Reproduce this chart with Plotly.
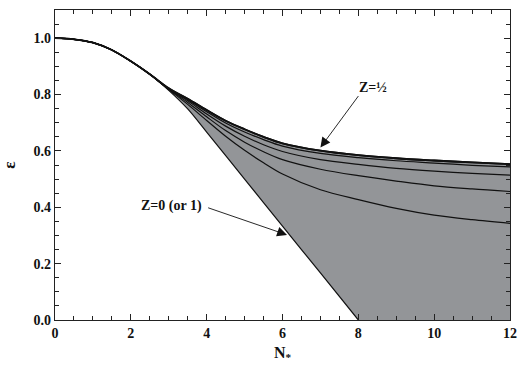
import plotly.graph_objects as go

# Data
N = [0, 0.5, 1, 1.5, 2, 2.5, 3, 3.5, 4, 4.5, 5, 5.5, 6, 7, 8, 9, 10, 11, 12]
common = [1.0, 0.996, 0.984, 0.958, 0.918, 0.872]  # shared part N=0..2.5
eps_z05 = common + [0.822, 0.785, 0.745, 0.707, 0.677, 0.650, 0.627, 0.601, 0.585, 0.574, 0.566, 0.559, 0.553]
eps_z04 = common + [0.821, 0.782, 0.739, 0.699, 0.667, 0.640, 0.617, 0.591, 0.576, 0.565, 0.557, 0.549, 0.543]
eps_z03 = common + [0.820, 0.778, 0.731, 0.688, 0.652, 0.622, 0.598, 0.569, 0.552, 0.538, 0.528, 0.520, 0.514]
eps_z02 = common + [0.819, 0.772, 0.721, 0.672, 0.631, 0.597, 0.569, 0.535, 0.512, 0.493, 0.476, 0.465, 0.456]
eps_z01 = common + [0.818, 0.765, 0.708, 0.652, 0.602, 0.558, 0.518, 0.462, 0.427, 0.396, 0.372, 0.356, 0.343]
N_z0 = [0, 0.5, 1, 1.5, 2, 2.5, 3, 3.5, 4, 5, 6, 7, 8]
eps_z0 = common + [0.815, 0.749, 0.667, 0.500, 0.333, 0.167, 0.0]

x_ticks = [0, 2, 4, 6, 8, 10, 12]
y_ticks = [0.0, 0.2, 0.4, 0.6, 0.8, 1.0]

fill_color = "#939598"
line_color = "#111111"
font_family = "Liberation Serif"

fig = go.Figure()
# shaded region under Z=1/2
fig.add_trace(go.Scatter(x=N, y=eps_z05, mode="lines", fill="tozeroy", fillcolor=fill_color,
                         line=dict(color=line_color, width=1.8, shape="spline", smoothing=0.9),
                         showlegend=False))
# white region under the Z=0 boundary
fig.add_trace(go.Scatter(x=N_z0, y=eps_z0, mode="lines", fill="tozeroy", fillcolor="white",
                         line=dict(color=line_color, width=1.2, shape="spline", smoothing=0.9),
                         showlegend=False))
for ys in [eps_z04, eps_z03, eps_z02, eps_z01]:
    fig.add_trace(go.Scatter(x=N, y=ys, mode="lines",
                             line=dict(color=line_color, width=1.2, shape="spline", smoothing=0.9),
                             showlegend=False))
# redraw top line
fig.add_trace(go.Scatter(x=N, y=eps_z05, mode="lines",
                         line=dict(color=line_color, width=1.8, shape="spline", smoothing=0.9),
                         showlegend=False))

axis_common = dict(
    showgrid=False, zeroline=False, showline=True, linecolor="#222", linewidth=1.2,
    mirror="allticks", ticks="inside", ticklen=6, tickwidth=1, tickcolor="#222",
    tickfont=dict(family=font_family, size=14, color="#111", weight="bold"),
    layer="above traces",
)

fig.update_xaxes(range=[0, 12], tickvals=x_ticks, ticktext=[str(v) for v in x_ticks],
                 minor=dict(dtick=0.5, ticks="inside", ticklen=3.5, tickcolor="#222"),
                 title=dict(text="N<sub>*</sub>", font=dict(family=font_family, size=16, color="#111", weight="bold"),
                            standoff=6),
                 **axis_common)
fig.update_yaxes(range=[0, 1.1], tickvals=y_ticks, ticktext=[f"{v:.1f}" for v in y_ticks],
                 minor=dict(dtick=0.05, ticks="inside", ticklen=3.5, tickcolor="#222"),
                 title=dict(text="ε", font=dict(family=font_family, size=17, color="#111", weight="bold"),
                            standoff=14),
                 **axis_common)

fig.add_annotation(x=7.0, y=0.612, ax=8.03, ay=0.80, xref="x", yref="y", axref="x", ayref="y",
                   text="", showarrow=True, arrowhead=2, arrowsize=2.2, arrowwidth=0.9, arrowcolor="#111")
fig.add_annotation(x=8.39, y=0.825, text="Z=½", showarrow=False,
                   font=dict(family=font_family, size=14, color="#111", weight="bold"))
fig.add_annotation(x=6.12, y=0.302, ax=4.0, ay=0.40, xref="x", yref="y", axref="x", ayref="y",
                   text="", showarrow=True, arrowhead=2, arrowsize=2.2, arrowwidth=0.9, arrowcolor="#111")
fig.add_annotation(x=3.07, y=0.405, text="Z=0 (or 1)", showarrow=False,
                   font=dict(family=font_family, size=14, color="#111", weight="bold"))

fig.update_layout(
    width=525, height=366,
    margin=dict(l=52, r=8, t=10, b=44),
    paper_bgcolor="white", plot_bgcolor="white",
    showlegend=False,
)

fig.write_html("out.html")
